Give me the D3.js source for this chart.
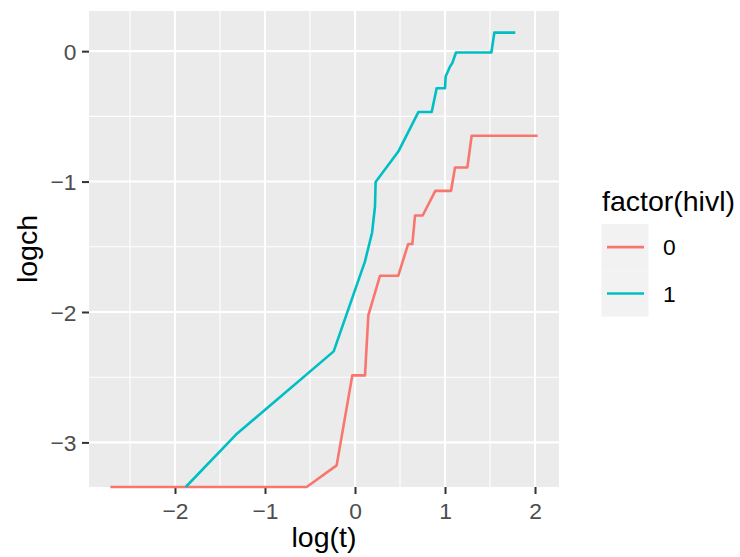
<!DOCTYPE html>
<html>
<head>
<meta charset="utf-8">
<script src="https://cdn.jsdelivr.net/npm/d3@7"></script>
<style>
  body { margin: 0; background: #ffffff; }
  text { font-family: "Liberation Sans", Arial, sans-serif; }
</style>
</head>
<body>
<div id="container"></div>
<script>
/* CONSTANTS AND GLOBALS */
const width = 740,
  height = 557,
  panel = { left: 89, right: 559, top: 11, bottom: 487 };

// log(t) and logch for each level of hivl ( -Infinity = log(0), drawn at the panel edge)
const time0 = [-2.718, -0.537, -0.204, -0.03, 0.111, 0.148, 0.278, 0.481, 0.59, 0.637, 0.667, 0.752, 0.892, 1.067, 1.111, 1.248, 1.296, 2.029];
const logch0 = [-Infinity, -Infinity, -3.176, -2.486, -2.486, -2.026, -1.722, -1.722, -1.479, -1.479, -1.26, -1.26, -1.071, -1.071, -0.892, -0.892, -0.649, -0.649];

const time1 = [-1.881, -1.322, -0.237, 0.111, 0.19, 0.222, 0.229, 0.481, 0.704, 0.852, 0.907, 1.0, 1.007, 1.056, 1.081, 1.122, 1.515, 1.548, 1.781];
const logch1 = [-Infinity, -2.94, -2.302, -1.612, -1.39, -1.191, -1.004, -0.77, -0.467, -0.467, -0.284, -0.284, -0.195, -0.118, -0.092, -0.01, -0.01, 0.142, 0.142];

const groups = ["0", "1"];
const colors = ["#F8766D", "#00BFC4"];
const xTicks = [-2, -1, 0, 1, 2];
const yTicks = [0, -1, -2, -3];

const series = [
  { key: groups[0], values: time0.map((t, i) => ({ t: t, y: logch0[i] })) },
  { key: groups[1], values: time1.map((t, i) => ({ t: t, y: logch1[i] })) }
];

/* SCALES */
// ggplot style 5% expansion
function expand(ext) {
  const pad = (ext[1] - ext[0]) * 0.05;
  return [ext[0] - pad, ext[1] + pad];
}
const allT = time0.concat(time1);
const allY = logch0.concat(logch1).filter(v => isFinite(v));

const xScale = d3.scaleLinear()
  .domain(expand(d3.extent(allT)))
  .range([panel.left, panel.right]);

const yScale = d3.scaleLinear()
  .domain(expand(d3.extent(allY)))
  .range([panel.bottom, panel.top])
  .clamp(true);

const colorScale = d3.scaleOrdinal()
  .domain(groups)
  .range(colors);

/* HTML ELEMENTS */
const svg = d3.select("#container")
  .append("svg")
  .attr("width", width)
  .attr("height", height)
  .style("background-color", "#ffffff");

// panel background
svg.append("rect")
  .attr("x", panel.left)
  .attr("y", panel.top)
  .attr("width", panel.right - panel.left)
  .attr("height", panel.bottom - panel.top)
  .attr("fill", "#EBEBEB");

// minor grid
const xMinor = d3.range(-2.5, 2.6, 1).filter(v => v > xScale.domain()[0] && v < xScale.domain()[1]);
const yMinor = d3.range(-3.5, 0.6, 1).filter(v => v > yScale.domain()[0] && v < yScale.domain()[1]);

svg.append("g").selectAll("line")
  .data(xMinor)
  .join("line")
  .attr("x1", d => xScale(d)).attr("x2", d => xScale(d))
  .attr("y1", panel.top).attr("y2", panel.bottom)
  .attr("stroke", "#ffffff").attr("stroke-width", 1.1);

svg.append("g").selectAll("line")
  .data(yMinor)
  .join("line")
  .attr("y1", d => yScale(d)).attr("y2", d => yScale(d))
  .attr("x1", panel.left).attr("x2", panel.right)
  .attr("stroke", "#ffffff").attr("stroke-width", 1.1);

// major grid
svg.append("g").selectAll("line")
  .data(xTicks)
  .join("line")
  .attr("x1", d => xScale(d)).attr("x2", d => xScale(d))
  .attr("y1", panel.top).attr("y2", panel.bottom)
  .attr("stroke", "#ffffff").attr("stroke-width", 2.1);

svg.append("g").selectAll("line")
  .data(yTicks)
  .join("line")
  .attr("y1", d => yScale(d)).attr("y2", d => yScale(d))
  .attr("x1", panel.left).attr("x2", panel.right)
  .attr("stroke", "#ffffff").attr("stroke-width", 2.1);

// axes
const xAxis = svg.append("g")
  .attr("class", "x-axis")
  .attr("transform", `translate(0,${panel.bottom})`)
  .call(d3.axisBottom(xScale).tickValues(xTicks).tickSize(7).tickFormat(d3.format("d")));

const yAxis = svg.append("g")
  .attr("class", "y-axis")
  .attr("transform", `translate(${panel.left},0)`)
  .call(d3.axisLeft(yScale).tickValues(yTicks).tickSize(7).tickPadding(5.5).tickFormat(d3.format("d")));

svg.selectAll(".domain").remove();
svg.selectAll(".tick line").attr("stroke", "#333333").attr("stroke-width", 2);
svg.selectAll(".tick text")
  .attr("fill", "#4D4D4D")
  .style("font-size", "22.8px")
  .style("font-family", "'Liberation Sans', Arial, sans-serif");
xAxis.selectAll(".tick text").attr("y", 31.5).attr("dy", null);
yAxis.selectAll(".tick text").attr("dy", "0.36em");

// x axis title
svg.append("text")
  .attr("text-anchor", "middle")
  .attr("x", (panel.left + panel.right) / 2)
  .attr("y", 547)
  .style("font-size", "28.5px")
  .attr("fill", "#000000")
  .text("log(t)");

// y axis title
svg.append("text")
  .attr("text-anchor", "middle")
  .attr("transform", `translate(37,${(panel.top + panel.bottom) / 2}) rotate(-90)`)
  .style("font-size", "28.5px")
  .attr("fill", "#000000")
  .text("logch");

// lines
const line = d3.line()
  .x(d => xScale(d.t))
  .y(d => yScale(d.y));

svg.append("g").selectAll("path")
  .data(series)
  .join("path")
  .attr("d", d => line(d.values))
  .attr("fill", "none")
  .attr("stroke", d => colorScale(d.key))
  .attr("stroke-width", 2.6)
  .attr("stroke-linejoin", "round");

// legend
const legend = svg.append("g").attr("class", "legend");

legend.append("text")
  .attr("x", 602)
  .attr("y", 211)
  .style("font-size", "28.5px")
  .attr("fill", "#000000")
  .text("factor(hivl)");

const keyH = 46.3;
const keys = legend.selectAll(".key")
  .data(groups)
  .join("g")
  .attr("class", "key")
  .attr("transform", (d, i) => `translate(601.5,${224 + i * keyH})`);

keys.append("rect")
  .attr("width", 47)
  .attr("height", keyH)
  .attr("fill", "#F2F2F2");

keys.append("line")
  .attr("x1", 5.5).attr("x2", 42.5)
  .attr("y1", keyH / 2).attr("y2", keyH / 2)
  .attr("stroke", d => colorScale(d))
  .attr("stroke-width", 2.6);

keys.append("text")
  .attr("x", 61.5)
  .attr("y", keyH / 2)
  .attr("dy", "0.36em")
  .style("font-size", "22.8px")
  .attr("fill", "#000000")
  .text(d => d);
</script>
</body>
</html>
